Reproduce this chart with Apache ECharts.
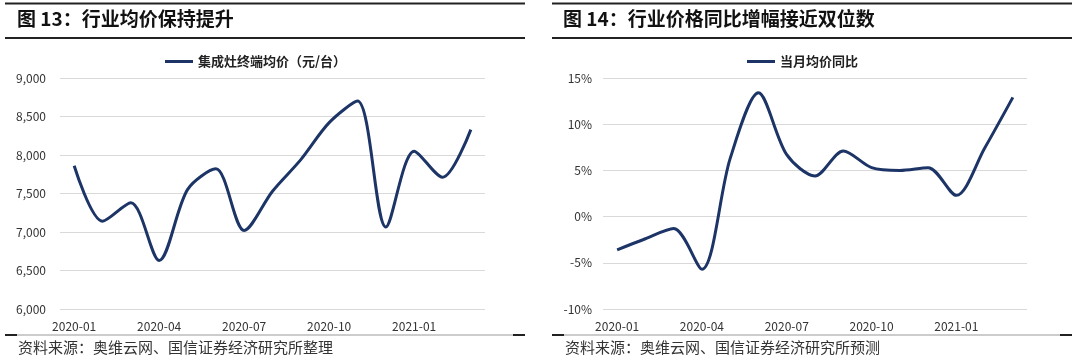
<!DOCTYPE html>
<html><head><meta charset="utf-8">
<script src="https://cdn.jsdelivr.net/npm/echarts@6/dist/echarts.min.js"></script>
<style>html,body{margin:0;padding:0;background:#fff}#c{width:1080px;height:364px}</style>
</head><body><div id="c"></div>
<script>
const months = ['2020-01','2020-02','2020-03','2020-04','2020-05','2020-06','2020-07','2020-08','2020-09','2020-10','2020-11','2020-12','2021-01','2021-02','2021-03'];
const avgPrice = [7860,7140,7380,6630,7550,7820,7020,7530,7940,8420,8700,7065,8050,7710,8330];
const yoyPct = [-3.6,-2.4,-1.3,-5.7,6.3,13.4,6.7,4.4,7.1,5.3,5.0,5.3,2.3,7.4,12.9];
const leftTitle = '图 13：行业均价保持提升';
const rightTitle = '图 14：行业价格同比增幅接近双位数';
const leftName = '集成灶终端均价（元/台）';
const rightName = '当月均价同比';
const leftSource = '资料来源：奥维云网、国信证券经济研究所整理';
const rightSource = '资料来源：奥维云网、国信证券经济研究所预测';

const FONT = '"Noto Sans CJK SC", "Noto Sans", sans-serif';
const NAVY = '#1c3466';
const chart = echarts.init(document.getElementById('c'), null, {renderer:'canvas'});

function panelLines(x1, x2) {
  const els = [];
  const line = (xa, xb, y, w, c) => ({type:'line', shape:{x1:xa,y1:y,x2:xb,y2:y}, style:{stroke:c, lineWidth:w}, silent:true});
  els.push(line(x1, x2, 3.5, 2, '#222'));
  els.push(line(x1, x2, 38, 2, '#222'));
  els.push(line(x1, x2, 335, 1, '#999'));
  els.push(line(x1, x1+12, 335, 2, '#222'));
  els.push(line(x2-12, x2, 335, 2, '#222'));
  return els;
}

const graphics = [].concat(
  panelLines(5, 525), panelLines(552, 1072),
  [
    {type:'text', left:17, top:9, style:{text:leftTitle, font:'bold 19px '+FONT, fill:'#111'}},
    {type:'text', left:563, top:9, style:{text:rightTitle, font:'bold 19px '+FONT, fill:'#111'}},
    {type:'text', left:18, top:340, style:{text:leftSource, font:'15px '+FONT, fill:'#333'}},
    {type:'text', left:565, top:340, style:{text:rightSource, font:'15px '+FONT, fill:'#333'}}
  ]
);

const axisLabelStyle = {color:'#333', fontSize:12, fontFamily:FONT};
const xAxisCommon = {
  type:'category', data:months, boundaryGap:true,
  axisLine:{show:false}, axisTick:{show:false},
  axisLabel:Object.assign({interval:2, margin:11}, axisLabelStyle),
  splitLine:{show:false}
};
const yGrid = {show:true, lineStyle:{color:'#d9d9d9', width:1}};
const legendText = {color:'#222', fontSize:13, fontWeight:'bold', fontFamily:FONT};

chart.setOption({
  animation:false,
  graphic:graphics,
  legend:[
    {data:[{name:leftName, icon:'rect'}], left:160, top:50, itemWidth:28, itemHeight:3, itemGap:4, textStyle:legendText},
    {data:[{name:rightName, icon:'rect'}], left:742, top:50, itemWidth:28, itemHeight:3, itemGap:4, textStyle:legendText}
  ],
  grid:[
    {left:60, top:78, width:425, height:231, containLabel:false},
    {left:603, top:78, width:424, height:231, containLabel:false}
  ],
  xAxis:[
    Object.assign({gridIndex:0}, xAxisCommon),
    Object.assign({gridIndex:1}, xAxisCommon)
  ],
  yAxis:[
    {gridIndex:0, type:'value', min:6000, max:9000, interval:500,
     axisLine:{show:false}, axisTick:{show:false}, splitLine:yGrid,
     axisLabel:Object.assign({margin:14, formatter:v=>v.toLocaleString('en-US')}, axisLabelStyle)},
    {gridIndex:1, type:'value', min:-10, max:15, interval:5,
     axisLine:{show:false}, axisTick:{show:false}, splitLine:yGrid,
     axisLabel:Object.assign({margin:11, formatter:v=>v+'%'}, axisLabelStyle)}
  ],
  series:[
    {name:leftName, type:'line', xAxisIndex:0, yAxisIndex:0, data:avgPrice, smooth:0.3,
     symbol:'none', lineStyle:{color:NAVY, width:3}, itemStyle:{color:NAVY}},
    {name:rightName, type:'line', xAxisIndex:1, yAxisIndex:1, data:yoyPct, smooth:0.3,
     symbol:'none', lineStyle:{color:NAVY, width:3}, itemStyle:{color:NAVY}}
  ]
});
</script></body></html>
